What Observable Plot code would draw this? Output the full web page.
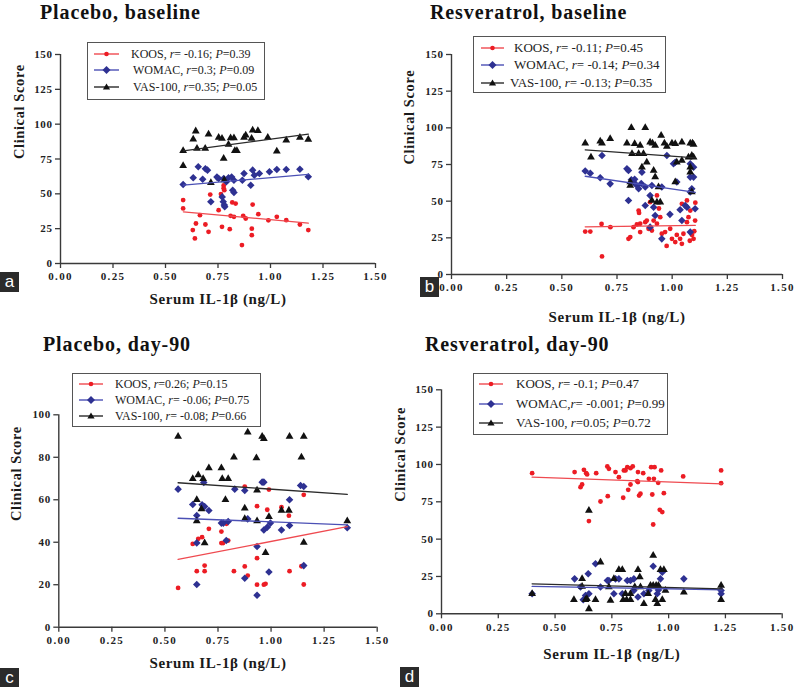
<!DOCTYPE html>
<html><head><meta charset="utf-8">
<script src="https://cdn.jsdelivr.net/npm/d3@7"></script>
<script src="https://cdn.jsdelivr.net/npm/@observablehq/plot@0.6"></script>
<style>
html,body{margin:0;padding:0;background:#fff;}
#root{position:relative;width:798px;height:687px;overflow:hidden;background:#fff;font-family:"Liberation Serif","Times New Roman",serif;color:#1a1a1a;}
#root svg.plot{position:absolute;}
.title{position:absolute;font-size:20px;font-weight:bold;line-height:20px;letter-spacing:0.9px;white-space:nowrap;color:#111;}
.legend{position:absolute;border:1.5px solid #555;background:#fff;box-sizing:border-box;}
.row{position:absolute;left:0;height:16px;white-space:nowrap;line-height:16px;color:#222;}
.row svg{position:absolute;top:0;}
.row span{position:absolute;top:0;}
.tag{position:absolute;width:19px;height:20px;background:#2b2b2b;color:#fff;font-family:"Liberation Sans",Arial,sans-serif;font-size:17px;line-height:19px;text-align:center;}
</style>
</head><body>
<div id="root"></div>
<script>
// ---------- shared ticks / labels ----------
const xTicks = [0, 0.25, 0.5, 0.75, 1, 1.25, 1.5];
const yTicks150 = [0, 25, 50, 75, 100, 125, 150];
const yTicks100 = [0, 20, 40, 60, 80, 100];
const xLabel = "Serum IL-1\u03b2 (ng/L)";
const yLabel = "Clinical Score";
const seriesNames = ["KOOS", "WOMAC", "VAS-100"];
const panelTitles = ["Placebo, baseline", "Resveratrol, baseline", "Placebo, day-90", "Resveratrol, day-90"];
const panelTags = ["a", "b", "c", "d"];

// ---------- legend statistics (r, P) ----------
const statsA = [["-0.16", "0.39"], ["0.3", "0.09"], ["0.35", "0.05"]];
const statsB = [["-0.11", "0.45"], ["-0.14", "0.34"], ["-0.13", "0.35"]];
const statsC = [["0.26", "0.15"], ["-0.06", "0.75"], ["-0.08", "0.66"]];
const statsD = [["-0.1", "0.47"], ["-0.001", "0.99"], ["0.05", "0.72"]];

// ---------- panel a: Placebo, baseline ----------
const aKOOS = [[0.584,45.5],[0.584,39.5],[0.63,24],[0.645,28.7],[0.64,18],[0.664,34.7],[0.69,28],[0.705,22.7],[0.713,49.5],[0.753,38.3],[0.764,49.8],[0.777,56],[0.777,54],[0.78,52.6],[0.769,26.3],[0.806,24.6],[0.818,43.8],[0.834,43],[0.81,34.2],[0.826,33.5],[0.87,34.2],[0.882,32.3],[0.864,13.2],[0.915,42.3],[0.911,25],[0.911,20.3],[0.942,35.4],[0.99,31],[1.03,33.5],[1.075,31.1],[1.14,28],[1.18,24]];
const aWOMAC = [[0.584,56.7],[0.632,61.5],[0.656,69.4],[0.69,68],[0.70,67],[0.677,60.5],[0.745,62],[0.753,61],[0.777,61],[0.80,61.5],[0.815,62],[0.79,58.6],[0.826,59.8],[0.716,44.3],[0.77,47.8],[0.775,44.3],[0.78,41.9],[0.782,40.7],[0.82,52.6],[0.826,51],[0.866,59.8],[0.874,64.6],[0.906,56.2],[0.915,67],[0.923,63.4],[0.947,64.6],[0.995,65.8],[1.03,67.5],[1.075,67.5],[1.14,67.7],[1.18,62.2]];
const aVAS = [[0.584,80.9],[0.584,70.1],[0.632,89.2],[0.644,95],[0.65,82.5],[0.705,92.8],[0.689,82.5],[0.753,90.4],[0.769,89.7],[0.777,75.4],[0.81,90],[0.826,90],[0.80,85.4],[0.83,81],[0.84,81],[0.874,90.4],[0.882,92],[0.915,95.7],[0.94,95.2],[0.91,89.7],[0.987,90.4],[1.03,80.6],[1.075,88.5],[1.14,90.4],[1.18,89],[0.716,57.9],[0.78,60]];
const aFitX = [0.585, 1.18];
const aFitKOOS = [37.1, 29.0];
const aFitWOMAC = [56.2, 63.9];
const aFitVAS = [80.9, 92.8];

// ---------- panel b: Resveratrol, baseline ----------
const bKOOS = [[0.606,29.3],[0.629,29.3],[0.682,12.3],[0.72,32.3],[0.68,34.5],[0.802,24.3],[0.81,25.5],[0.825,32.3],[0.84,34.1],[0.855,34.6],[0.878,35.7],[0.885,36.8],[0.848,43.6],[0.85,42],[0.855,28.9],[0.893,31.2],[0.908,30],[0.9,49.3],[0.931,53.9],[0.916,36.8],[0.931,34.6],[0.946,39.1],[0.953,27.8],[0.968,28.9],[0.991,31.2],[0.999,24.3],[1.014,22.1],[1.021,27],[1.051,27.8],[1.067,35.7],[1.074,39.1],[1.082,43.6],[1.044,48.2],[1.067,50.5],[1.09,27],[1.097,24.3],[1.1,29.5],[1.08,23],[1.104,36.8],[1.036,24.3],[1.044,20.9],[0.975,19.5],[0.94,45],[1.105,49]];
const bWOMAC = [[0.606,70.5],[0.629,69.1],[0.682,81.1],[0.674,65.9],[0.719,61.8],[0.795,72.1],[0.802,70.9],[0.815,64.6],[0.825,63],[0.84,60.7],[0.848,58.4],[0.863,69.8],[0.878,59.6],[0.802,50.5],[0.878,47.1],[0.9,53.9],[0.916,45.9],[0.923,40.2],[0.9,32.3],[0.953,24.3],[0.953,59.6],[0.976,81.1],[1.006,75.5],[1.014,76.6],[1.021,63],[0.99,41],[1.036,44.1],[1.044,36.8],[1.059,47],[1.067,45.9],[1.082,56.2],[1.089,58.4],[1.082,66.4],[1.097,66.4],[1.097,73.2],[1.082,75.5],[1.104,44.8],[1.082,28.9],[0.908,60.7],[0.83,65],[0.86,62]];
const bVAS = [[0.606,89.5],[0.632,80],[0.674,90.9],[0.682,89.5],[0.719,92.5],[0.815,100],[0.878,100],[0.795,89.5],[0.83,89.1],[0.848,82.3],[0.818,82.3],[0.855,88],[0.9,90.2],[0.911,89.5],[0.923,88],[0.95,94.8],[0.965,89.5],[0.976,87.3],[0.999,89.5],[1.014,89.1],[1.044,90.2],[1.082,89.5],[1.092,89.5],[1.097,88.6],[1.074,80],[1.089,81.1],[1.097,80],[1.044,77.7],[1.082,73.2],[1.082,69.8],[1.021,76.6],[1.014,63],[0.885,76.6],[0.87,82.3],[0.863,73.2],[0.916,70.9],[0.923,66.4],[0.938,59.6],[0.908,50.5],[0.931,49.3],[0.946,49.3],[0.81,63],[0.81,60.7],[1.089,56.2]];
const bFitX = [0.606, 1.105];
const bFitKOOS = [32.5, 33.5];
const bFitWOMAC = [67, 56];
const bFitVAS = [85, 79.5];

// ---------- panel c: Placebo, day-90 ----------
const cKOOS = [[0.562,18.5],[0.631,39.2],[0.657,41.6],[0.675,42.4],[0.65,26.4],[0.687,26.4],[0.687,29],[0.707,46.3],[0.766,45],[0.766,39.6],[0.774,39.6],[0.79,48.7],[0.798,40.8],[0.825,26.4],[0.876,66.2],[0.876,28.6],[0.89,24.3],[0.934,57],[0.934,32.5],[0.934,20],[0.966,20],[0.974,20.4],[0.982,55.3],[0.99,64.8],[1.049,56.5],[1.084,52.5],[1.087,26.4],[1.143,28.7],[1.154,62.3],[1.154,20.1]];
const cWOMAC = [[0.562,65],[0.631,57.8],[0.65,52.6],[0.65,39.7],[0.65,20.1],[0.675,57.6],[0.687,56.8],[0.707,54.9],[0.683,68.1],[0.766,49],[0.775,49],[0.789,40.8],[0.798,49.8],[0.829,65],[0.876,64.4],[0.876,23],[0.89,51],[0.934,38],[0.934,15],[0.958,68.3],[0.966,68.3],[0.966,45.8],[0.982,47.1],[0.99,26],[0.997,49],[1.049,45.8],[1.087,60],[1.087,47.9],[1.139,66.7],[1.154,66.2],[1.154,29],[1.359,46.8]];
const cVAS = [[0.562,89.8],[0.631,69.9],[0.657,71.7],[0.65,60],[0.65,50],[0.672,55.7],[0.68,69.9],[0.687,39.6],[0.707,74.9],[0.766,74.9],[0.77,69.9],[0.798,69.9],[0.785,60],[0.825,80],[0.89,91.8],[0.931,79.7],[0.934,64.5],[0.958,89.8],[0.966,88.7],[0.934,50],[0.974,35],[0.99,52],[0.876,56],[0.876,51],[1.049,55],[1.087,89.8],[1.084,55],[1.143,80],[1.154,89.8],[1.154,39.9],[1.359,50]];
const cFitX = [0.562, 1.359];
const cFitKOOS = [31.9, 47.3];
const cFitWOMAC = [51.3, 48.2];
const cFitVAS = [68, 62.5];

// ---------- panel d: Resveratrol, day-90 ----------
const dKOOS = [[0.399,94.2],[0.586,94.9],[0.612,84.8],[0.619,86.6],[0.627,96.4],[0.637,94.2],[0.641,93.3],[0.681,94.2],[0.7,75.2],[0.732,78.8],[0.73,98.7],[0.737,97.1],[0.766,94.9],[0.781,91.5],[0.8,77.7],[0.803,96],[0.81,96],[0.818,98.2],[0.832,97.5],[0.842,98.7],[0.822,83],[0.832,86.6],[0.865,94.9],[0.862,88.8],[0.865,88.2],[0.87,79.2],[0.876,80.4],[0.888,94.2],[0.913,90.4],[0.923,98.2],[0.938,98.2],[0.928,79.9],[0.935,90.4],[0.954,87.7],[0.967,96],[0.961,69.6],[0.972,68.1],[0.979,80.8],[0.932,59.8],[0.649,62.1],[1.064,92],[1.231,96],[1.231,87.5]];
const dWOMAC = [[0.399,13.4],[0.586,23.4],[0.612,17.9],[0.624,9.4],[0.634,12.3],[0.646,26.8],[0.649,13.4],[0.678,33.5],[0.7,17.9],[0.73,22.3],[0.737,22.3],[0.766,23.4],[0.781,23.4],[0.759,13.4],[0.796,13.4],[0.818,22.3],[0.832,22.3],[0.847,23.4],[0.847,15.6],[0.865,11.2],[0.891,13.4],[0.913,15.6],[0.932,31.9],[0.95,13.4],[0.955,16],[0.964,23.4],[0.972,27.9],[1.067,23.4],[1.231,15.6],[1.231,13.4]];
const dVAS = [[0.649,69.2],[0.399,13.4],[0.583,9.4],[0.619,23.4],[0.619,18.3],[0.634,9.4],[0.64,10],[0.649,3.3],[0.678,9.4],[0.7,34.6],[0.737,17.9],[0.744,8.9],[0.759,23.4],[0.781,29.5],[0.796,29.5],[0.8,9.4],[0.815,9.4],[0.832,9.4],[0.81,13.4],[0.832,13.4],[0.865,29.5],[0.873,24.6],[0.851,17.9],[0.876,17.9],[0.891,6.7],[0.91,13.4],[0.92,19],[0.932,19],[0.945,19],[0.955,19],[0.932,39],[0.942,9.4],[0.95,6.7],[0.964,29.5],[0.979,29.5],[0.972,9.4],[0.986,15.6],[1.067,14.5],[1.231,19],[1.231,9.4]];
const dFitX = [0.399, 1.236];
const dFitKOOS = [91.5, 87];
const dFitWOMAC = [18.3, 16.1];
const dFitVAS = [20.1, 16.7];

// ---------- styling (not data) ----------
const dotColors = ["#ec1c24", "#2e3192", "#111111"];
const fitColors = ["#ef4a50", "#4b50b5", "#2a2a2a"];
const dotSymbols = ["circle", "diamond2", "triangle"];
const dotR = [2.4, 3.4, 2.9];
const serif = "'Liberation Serif','Times New Roman',serif";

const root = document.getElementById("root");

function buildPanel(cfg) {
  const marks = [];
  cfg.points.forEach((pts, i) => {
    marks.push(Plot.dot(pts, {x: d => d[0], y: d => d[1], symbol: dotSymbols[i], fill: dotColors[i], r: dotR[i]}));
  });
  cfg.fits.forEach((fy, i) => {
    marks.push(Plot.line(cfg.fitX.map((x, j) => [x, fy[j]]), {x: d => d[0], y: d => d[1], stroke: fitColors[i], strokeWidth: 1.3}));
  });
  marks.push(
    Plot.ruleY([0], {stroke: "#3a3a3a", strokeWidth: 1.4}),
    Plot.ruleX([0], {stroke: "#3a3a3a", strokeWidth: 1.4}),
    Plot.axisX({ticks: xTicks, tickFormat: d => d.toFixed(2), tickSize: 5, tickPadding: 4, fontWeight: "bold", fontSize: 11, stroke: "#3a3a3a", strokeWidth: 1.3, fill: "#222", label: null}),
    Plot.axisY({ticks: cfg.yTicks, tickFormat: d => String(d), tickSize: 5, tickPadding: 3, fontWeight: "bold", fontSize: 11, stroke: "#3a3a3a", strokeWidth: 1.3, fill: "#222", label: null}),
    Plot.text([xLabel], {text: d => d, frameAnchor: "bottom", dy: cfg.xLabDy, fontWeight: "bold", fontSize: 15, fill: "#1a1a1a"}),
    Plot.text([yLabel], {text: d => d, frameAnchor: "left", dx: cfg.yLabDx, rotate: -90, fontWeight: "bold", fontSize: 14.5, fill: "#1a1a1a"})
  );
  const svg = Plot.plot({
    width: cfg.width, height: cfg.height,
    marginTop: cfg.mt, marginBottom: cfg.mb, marginLeft: cfg.ml, marginRight: cfg.mr,
    x: {domain: [0, 1.5]},
    y: {domain: cfg.yDomain},
    style: {fontFamily: serif, background: "transparent", overflow: "visible", color: "#1a1a1a"},
    marks
  });
  svg.classList.add("plot");
  svg.style.left = cfg.left + "px";
  svg.style.top = cfg.top + "px";
  svg.querySelectorAll('g[aria-label="x-axis tick label"]').forEach(g => g.style.letterSpacing = "1.3px");
  svg.querySelectorAll('g[aria-label="y-axis tick label"]').forEach(g => g.style.letterSpacing = "0.6px");
  svg.querySelectorAll('g[aria-label="text"]').forEach(g => g.style.letterSpacing = "0.6px");
  root.appendChild(svg);

  const t = document.createElement("div");
  t.className = "title";
  t.textContent = cfg.title;
  t.style.left = cfg.titleX + "px";
  t.style.top = cfg.titleY + "px";
  root.appendChild(t);

  const lg = document.createElement("div");
  lg.className = "legend";
  Object.assign(lg.style, {left: cfg.lg.x + "px", top: cfg.lg.y + "px", width: cfg.lg.w + "px", height: cfg.lg.h + "px"});
  cfg.stats.forEach((st, i) => {
    const row = document.createElement("div");
    row.className = "row";
    row.style.top = (cfg.lg.rows[i] - 8) + "px";
    row.style.fontSize = cfg.lg.fs + "px";
    const gx0 = cfg.lg.g0, gx1 = cfg.lg.g1, gm = (gx0 + gx1) / 2;
    let sym;
    if (i === 0) sym = `<circle cx="${gm}" cy="8" r="2.3" fill="${dotColors[0]}"/>`;
    else if (i === 1) sym = `<path d="M${gm},4L${gm + 4},8L${gm},12L${gm - 4},8Z" fill="${dotColors[1]}"/>`;
    else sym = `<path d="M${gm},4.4L${gm + 3.6},10.6L${gm - 3.6},10.6Z" fill="${dotColors[2]}"/>`;
    const sep = (i === 1 && cfg.womacNoSpace) ? "," : ", ";
    const rEq = st[0].startsWith("-") ? "= " + st[0] : "=" + st[0];
    row.innerHTML = `<svg width="${gx1 + 4}" height="16"><line x1="${gx0}" x2="${gx1}" y1="8" y2="8" stroke="${fitColors[i]}" stroke-width="1.4"/>${sym}</svg>` +
      `<span style="left:${cfg.lg.tx[i]}px">${seriesNames[i]}${sep}<i>r</i>${rEq}; <i>P</i>=${st[1]}</span>`;
    lg.appendChild(row);
  });
  root.appendChild(lg);

  const tag = document.createElement("div");
  tag.className = "tag";
  tag.textContent = cfg.tag;
  tag.style.left = cfg.tagX + "px";
  tag.style.top = cfg.tagY + "px";
  root.appendChild(tag);
}

buildPanel({
  left: 0, top: 0, width: 400, height: 312, mt: 54, mb: 49, ml: 60, mr: 25,
  yDomain: [0, 150], yTicks: yTicks150, xLabDy: 40, yLabDx: -41,
  points: [aKOOS, aWOMAC, aVAS], fitX: aFitX, fits: [aFitKOOS, aFitWOMAC, aFitVAS],
  title: panelTitles[0], titleX: 40, titleY: 1.5, stats: statsA,
  lg: {x: 87, y: 42, w: 178, h: 58, rows: [11, 27, 44], g0: 6, g1: 31, tx: [43, 45, 45], fs: 12},
  tag: panelTags[0], tagX: 0, tagY: 272
});
buildPanel({
  left: 400, top: 0, width: 398, height: 330, mt: 54, mb: 56, ml: 51, mr: 16,
  yDomain: [0, 150], yTicks: yTicks150, xLabDy: 47, yLabDx: -42,
  points: [bKOOS, bWOMAC, bVAS], fitX: bFitX, fits: [bFitKOOS, bFitWOMAC, bFitVAS],
  title: panelTitles[1], titleX: 430, titleY: 1.5, stats: statsB,
  lg: {x: 473, y: 36, w: 193, h: 57, rows: [11, 28, 46], g0: 7, g1: 30, tx: [40, 40, 36], fs: 13},
  tag: panelTags[1], tagX: 420, tagY: 277
});
buildPanel({
  left: 0, top: 330, width: 400, height: 357, mt: 84.3, mb: 60.3, ml: 58.3, mr: 23.3,
  yDomain: [0, 100], yTicks: yTicks100, xLabDy: 41, yLabDx: -42,
  points: [cKOOS, cWOMAC, cVAS], fitX: cFitX, fits: [cFitKOOS, cFitWOMAC, cFitVAS],
  title: panelTitles[2], titleX: 43, titleY: 334, stats: statsC,
  lg: {x: 72, y: 373, w: 189, h: 54, rows: [10, 26, 42], g0: 6, g1: 30, tx: [42, 42, 42], fs: 12},
  tag: panelTags[2], tagX: 0, tagY: 668
});
buildPanel({
  left: 400, top: 330, width: 398, height: 357, mt: 59.3, mb: 73.7, ml: 41, mr: 16.3,
  yDomain: [0, 150], yTicks: yTicks150, xLabDy: 45, yLabDx: -41,
  points: [dKOOS, dWOMAC, dVAS], fitX: dFitX, fits: [dFitKOOS, dFitWOMAC, dFitVAS],
  title: panelTitles[3], titleX: 425, titleY: 334, stats: statsD, womacNoSpace: true,
  lg: {x: 473, y: 373, w: 195, h: 62, rows: [10, 30, 49], g0: 5, g1: 29, tx: [42, 42, 42], fs: 13},
  tag: panelTags[3], tagX: 400, tagY: 667
});
</script>
</body></html>
